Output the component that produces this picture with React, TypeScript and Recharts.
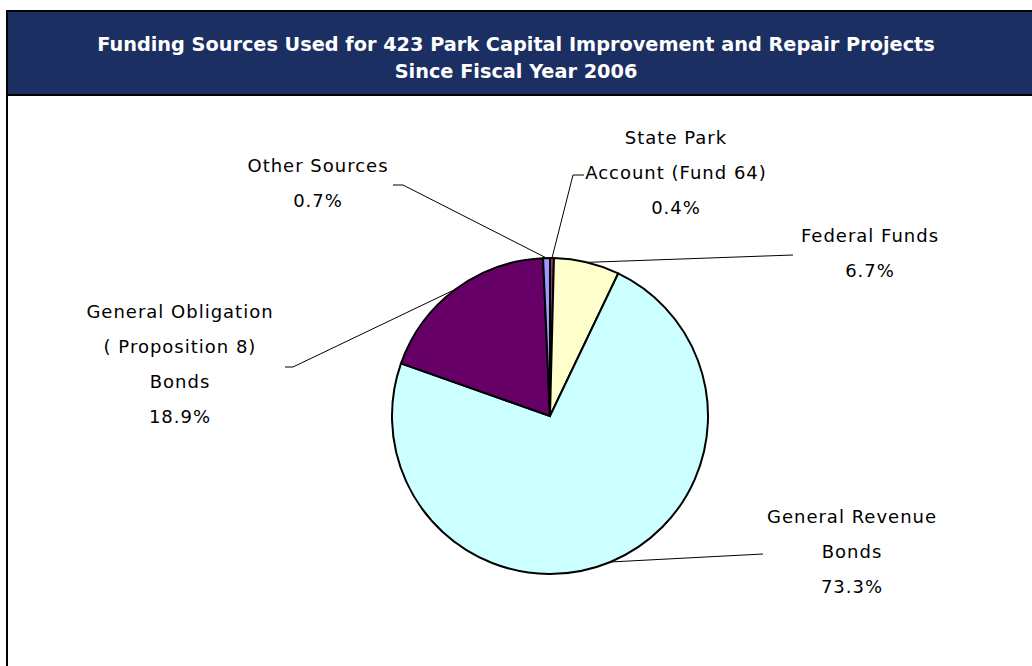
import React from 'react'
import { PieChart, Pie, Cell } from 'recharts'

// slices, clockwise from 12 o'clock
const sources = [
  'State Park Account (Fund 64)',
  'Federal Funds',
  'General Revenue Bonds',
  'General Obligation (Proposition 8) Bonds',
  'Other Sources',
]
const shares = [0.4, 6.7, 73.3, 18.9, 0.7]
const labelText = [
  ['State Park', 'Account (Fund 64)'],
  ['Federal Funds'],
  ['General Revenue', 'Bonds'],
  ['General Obligation', '( Proposition 8)', 'Bonds'],
  ['Other Sources'],
]
const sliceColors = ['#993366', '#FFFFCC', '#CCFFFF', '#660066', '#9999FF']

// label placement relative to pie centre (Excel style callouts)
const labelLayout = [
  { dx: 126, dy: -279, leader: [[23, -241], [34, -241]] },
  { dx: 320, dy: -181, leader: [[243, -161]] },
  { dx: 302, dy: 100, leader: [[213, 138]] },
  { dx: -370, dy: -105, leader: [[-257, -49], [-265, -49]] },
  { dx: -232, dy: -251, leader: [[-147, -231], [-157, -231]] },
]

const data = sources.map((name, i) => ({ name, value: shares[i] }))

const RADIAN = Math.PI / 180
const LINE_GAP = 35
const labelFont = '"DejaVu Sans", Verdana, sans-serif'

function renderLabel(props: any) {
  const { cx, cy, midAngle, outerRadius, index } = props
  const layout = labelLayout[index]
  const ex = cx + outerRadius * Math.cos(-midAngle * RADIAN)
  const ey = cy + outerRadius * Math.sin(-midAngle * RADIAN)
  const pts = [[ex, ey], ...layout.leader.map(([x, y]) => [cx + x, cy + y])]
  const lines = [...labelText[index], `${shares[index].toFixed(1)}%`]
  return (
    <g key={`lbl-${index}`}>
      <polyline
        points={pts.map((p) => p.join(',')).join(' ')}
        fill="none"
        stroke="#000"
        strokeWidth={1}
      />
      <text
        x={cx + layout.dx}
        y={cy + layout.dy}
        textAnchor="middle"
        fill="#000"
        fontFamily={labelFont}
        fontSize={18}
        letterSpacing={1}
      >
        {lines.map((t, j) => (
          <tspan key={j} x={cx + layout.dx} y={cy + layout.dy + j * LINE_GAP} dominantBaseline="central">
            {t}
          </tspan>
        ))}
      </text>
    </g>
  )
}

export default function App() {
  return (
    <div
      style={{
        position: 'absolute',
        left: 6,
        top: 10,
        width: 1040,
        height: 680,
        border: '2px solid #000',
        background: '#fff',
        boxSizing: 'border-box',
        overflow: 'hidden',
      }}
    >
      <div
        style={{
          height: 84,
          background: '#1b2f62',
          borderBottom: '2px solid #000',
          color: '#fff',
          fontFamily: labelFont,
          fontWeight: 'bold',
          fontSize: 19.3,
          lineHeight: '27px',
          paddingTop: 19,
          boxSizing: 'border-box',
        }}
      >
        <div style={{ width: 1016, textAlign: 'center' }}>
          Funding Sources Used for 423 Park Capital Improvement and Repair Projects
          <br />
          Since Fiscal Year 2006
        </div>
      </div>
      <PieChart width={1030} height={570} margin={{ top: 0, right: 0, bottom: 0, left: 0 }}>
        <Pie
          data={data}
          dataKey="value"
          nameKey="name"
          cx={542}
          cy={320}
          outerRadius={158}
          startAngle={90}
          endAngle={-270}
          stroke="#000"
          strokeWidth={2}
          label={renderLabel}
          labelLine={false}
          isAnimationActive={false}
        >
          {data.map((d, i) => (
            <Cell key={d.name} fill={sliceColors[i]} />
          ))}
        </Pie>
      </PieChart>
    </div>
  )
}
